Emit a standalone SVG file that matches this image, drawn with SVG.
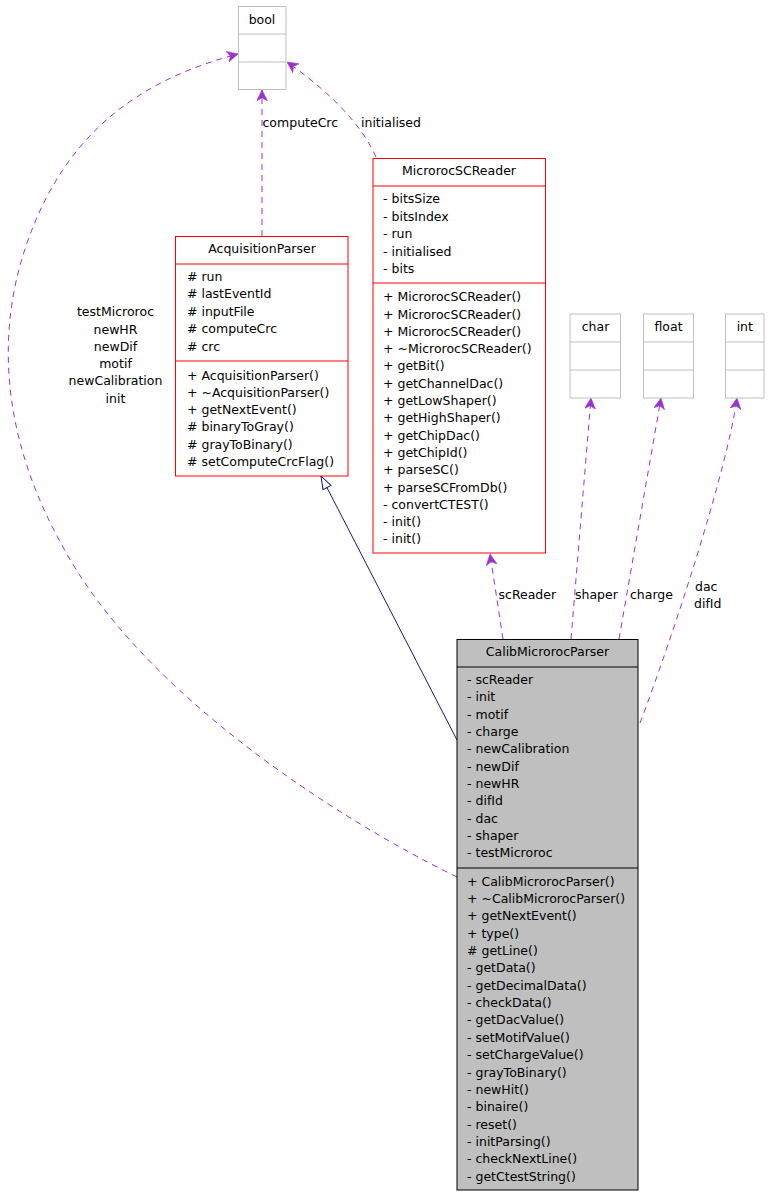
<svg xmlns="http://www.w3.org/2000/svg" width="769" height="1197" viewBox="0 0 769 1197">
<style>
text{font-family:"DejaVu Sans","Liberation Sans",sans-serif;font-size:12.5px;fill:#000}
.c{text-anchor:middle}
.red{fill:#fff;stroke:#ff0000;stroke-width:1}
.redl{stroke:#ff0000;stroke-width:1}
.gray{fill:#fff;stroke:#bfbfbf;stroke-width:1}
.grayl{stroke:#bfbfbf;stroke-width:1}
.cur{fill:#bfbfbf;stroke:#000;stroke-width:1}
.curl{stroke:#000;stroke-width:1}
.use{fill:none;stroke:#9a32cd;stroke-width:1;stroke-dasharray:6,5;marker-end:url(#vee)}
.inh{fill:none;stroke:#191970;stroke-width:1;marker-end:url(#tri)}
</style>
<defs>
<marker id="vee" viewBox="0 0 10 10" refX="10" refY="5" markerWidth="11" markerHeight="11" markerUnits="userSpaceOnUse" orient="auto">
<path d="M0,0 L10,5 L0,10 L3,5 z" fill="#9a32cd" stroke="#9a32cd" stroke-width="0.5"/>
</marker>
<marker id="tri" viewBox="-1 -1 15 11" refX="13" refY="4.5" markerWidth="15" markerHeight="11" markerUnits="userSpaceOnUse" orient="auto">
<path d="M0,0 L13,4.5 L0,9 z" fill="#fff" stroke="#191970" stroke-width="1"/>
</marker>
</defs>

<g id="connectors">
<path class="use" d="M262,236 L262,90"/>
<path class="use" d="M376,157 C362,125 330,92 287,62"/>
<path class="use" d="M503,639 L490,554"/>
<path class="use" d="M571,639 L591,398"/>
<path class="use" d="M619,639 L661,398"/>
<path class="use" d="M640,723 C675,630 727,470 737,398"/>
<path class="use" d="M457,877 C330,815 140,690 63,547 C9,451 -9,346 27,243 C63,140 131,82 238,54"/>
<path class="inh" d="M457,740 L321,476"/>
<text x="262.5" y="127">computeCrc</text>
<text x="361" y="127">initialised</text>
<text x="498.5" y="599">scReader</text>
<text x="575" y="599">shaper</text>
<text x="630" y="599">charge</text>
<text x="695" y="591">dac</text>
<text x="694" y="608">difId</text>
<text class="c" x="115.5" y="316.2">testMicroroc</text>
<text class="c" x="115.5" y="333.5">newHR</text>
<text class="c" x="115.5" y="350.7">newDif</text>
<text class="c" x="115.5" y="368">motif</text>
<text class="c" x="115.5" y="385.3">newCalibration</text>
<text class="c" x="115.5" y="402.8">init</text>
</g>

<g id="bool">
<rect class="gray" x="238.5" y="6.5" width="47.5" height="83"/>
<line class="grayl" x1="238.5" y1="34" x2="286" y2="34"/>
<line class="grayl" x1="238.5" y1="62" x2="286" y2="62"/>
<text class="c" x="262" y="23.5">bool</text>
</g>

<g id="MicrorocSCReader">
<rect class="red" x="373" y="158.5" width="172.5" height="394.5"/>
<line class="redl" x1="373" y1="186" x2="545.5" y2="186"/>
<line class="redl" x1="373" y1="283" x2="545.5" y2="283"/>
<text class="c" x="459" y="175">MicrorocSCReader</text>
<text x="383" y="203.2">- bitsSize<tspan x="383" dy="17.5">- bitsIndex</tspan><tspan x="383" dy="17.5">- run</tspan><tspan x="383" dy="17.5">- initialised</tspan><tspan x="383" dy="17.5">- bits</tspan></text>
<text x="383" y="301.2">+ MicrorocSCReader()<tspan x="383" dy="17.3">+ MicrorocSCReader()</tspan><tspan x="383" dy="17.3">+ MicrorocSCReader()</tspan><tspan x="383" dy="17.3">+ ~MicrorocSCReader()</tspan><tspan x="383" dy="17.3">+ getBit()</tspan><tspan x="383" dy="17.3">+ getChannelDac()</tspan><tspan x="383" dy="17.3">+ getLowShaper()</tspan><tspan x="383" dy="17.3">+ getHighShaper()</tspan><tspan x="383" dy="17.3">+ getChipDac()</tspan><tspan x="383" dy="17.3">+ getChipId()</tspan><tspan x="383" dy="17.3">+ parseSC()</tspan><tspan x="383" dy="17.3">+ parseSCFromDb()</tspan><tspan x="383" dy="17.3">- convertCTEST()</tspan><tspan x="383" dy="17.3">- init()</tspan><tspan x="383" dy="17.3">- init()</tspan></text>
</g>

<g id="AcquisitionParser">
<rect class="red" x="175.5" y="236.5" width="172.5" height="239.5"/>
<line class="redl" x1="175.5" y1="264" x2="348" y2="264"/>
<line class="redl" x1="175.5" y1="361" x2="348" y2="361"/>
<text class="c" x="262" y="253">AcquisitionParser</text>
<text x="187" y="280.5"># run<tspan x="187" dy="17.5"># lastEventId</tspan><tspan x="187" dy="17.5"># inputFile</tspan><tspan x="187" dy="17.5"># computeCrc</tspan><tspan x="187" dy="17.5"># crc</tspan></text>
<text x="187" y="379.5">+ AcquisitionParser()<tspan x="187" dy="17.3">+ ~AcquisitionParser()</tspan><tspan x="187" dy="17.3">+ getNextEvent()</tspan><tspan x="187" dy="17.3"># binaryToGray()</tspan><tspan x="187" dy="17.3"># grayToBinary()</tspan><tspan x="187" dy="17.3"># setComputeCrcFlag()</tspan></text>
</g>

<g id="char">
<rect class="gray" x="570" y="314" width="50.5" height="84"/>
<line class="grayl" x1="570" y1="342" x2="620.5" y2="342"/>
<line class="grayl" x1="570" y1="370" x2="620.5" y2="370"/>
<text class="c" x="595.5" y="331">char</text>
</g>

<g id="float">
<rect class="gray" x="643.5" y="314" width="50" height="84"/>
<line class="grayl" x1="643.5" y1="342" x2="693.5" y2="342"/>
<line class="grayl" x1="643.5" y1="370" x2="693.5" y2="370"/>
<text class="c" x="668.5" y="331">float</text>
</g>

<g id="int">
<rect class="gray" x="725.5" y="314" width="38.5" height="84"/>
<line class="grayl" x1="725.5" y1="342" x2="764" y2="342"/>
<line class="grayl" x1="725.5" y1="370" x2="764" y2="370"/>
<text class="c" x="744.8" y="331">int</text>
</g>

<g id="CalibMicrorocParser">
<rect class="cur" x="457" y="639.5" width="181" height="550.5"/>
<line class="curl" x1="457" y1="667" x2="638" y2="667"/>
<line class="curl" x1="457" y1="868" x2="638" y2="868"/>
<text class="c" x="547.5" y="656.2">CalibMicrorocParser</text>
<text x="467" y="683.8">- scReader<tspan x="467" dy="17.35">- init</tspan><tspan x="467" dy="17.35">- motif</tspan><tspan x="467" dy="17.35">- charge</tspan><tspan x="467" dy="17.35">- newCalibration</tspan><tspan x="467" dy="17.35">- newDif</tspan><tspan x="467" dy="17.35">- newHR</tspan><tspan x="467" dy="17.35">- difId</tspan><tspan x="467" dy="17.35">- dac</tspan><tspan x="467" dy="17.35">- shaper</tspan><tspan x="467" dy="17.35">- testMicroroc</tspan></text>
<text x="467" y="885.5">+ CalibMicrorocParser()<tspan x="467" dy="17.37">+ ~CalibMicrorocParser()</tspan><tspan x="467" dy="17.37">+ getNextEvent()</tspan><tspan x="467" dy="17.37">+ type()</tspan><tspan x="467" dy="17.37"># getLine()</tspan><tspan x="467" dy="17.37">- getData()</tspan><tspan x="467" dy="17.37">- getDecimalData()</tspan><tspan x="467" dy="17.37">- checkData()</tspan><tspan x="467" dy="17.37">- getDacValue()</tspan><tspan x="467" dy="17.37">- setMotifValue()</tspan><tspan x="467" dy="17.37">- setChargeValue()</tspan><tspan x="467" dy="17.37">- grayToBinary()</tspan><tspan x="467" dy="17.37">- newHit()</tspan><tspan x="467" dy="17.37">- binaire()</tspan><tspan x="467" dy="17.37">- reset()</tspan><tspan x="467" dy="17.37">- initParsing()</tspan><tspan x="467" dy="17.37">- checkNextLine()</tspan><tspan x="467" dy="17.37">- getCtestString()</tspan></text>
</g>
</svg>
